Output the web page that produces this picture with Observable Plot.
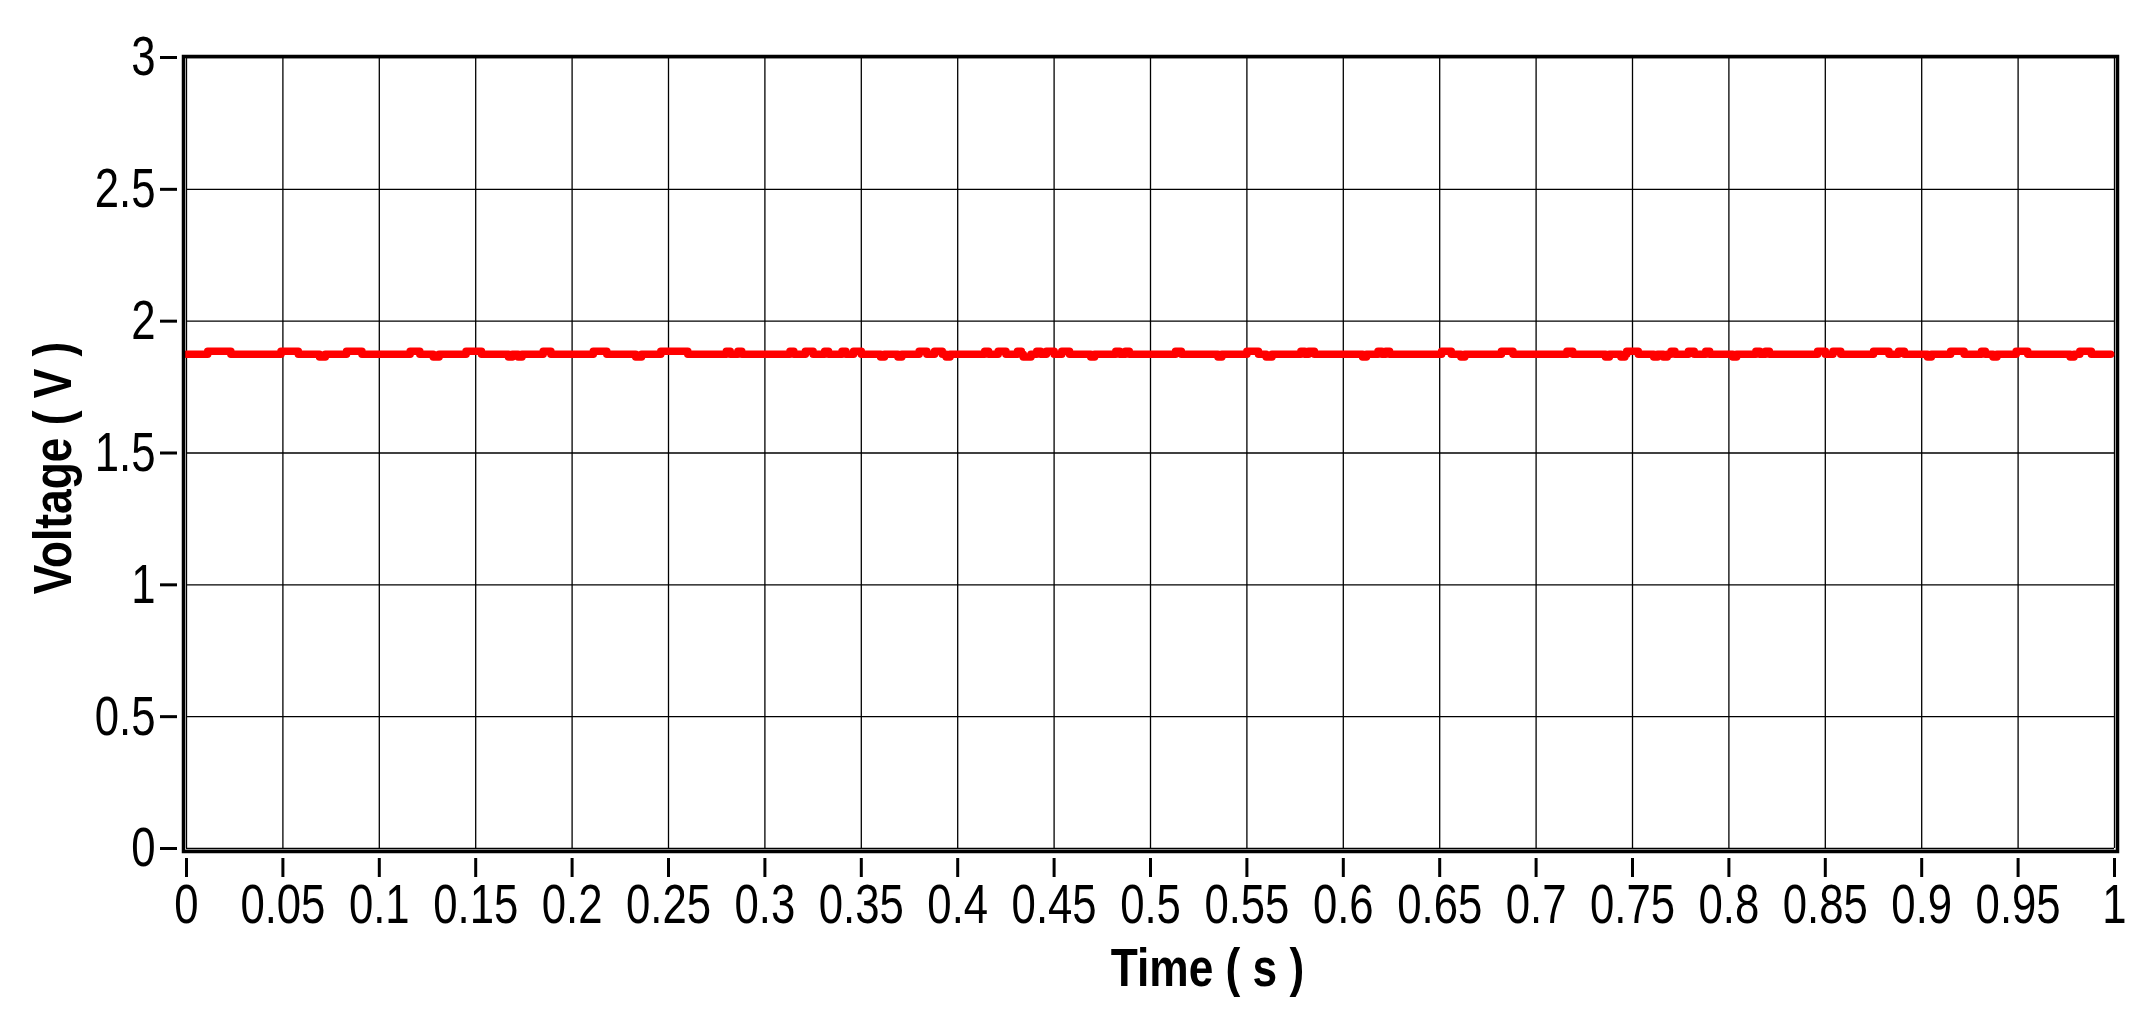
<!DOCTYPE html>
<html><head><meta charset="utf-8">
<script src="https://cdn.jsdelivr.net/npm/d3@7"></script>
<script src="https://cdn.jsdelivr.net/npm/@observablehq/plot@0.6"></script>
<style>body{margin:0;background:#fff} svg{display:block}</style>
</head><body><div id="chart"></div>
<script>
const xTicks = [0,0.05,0.1,0.15,0.2,0.25,0.3,0.35,0.4,0.45,0.5,0.55,0.6,0.65,0.7,0.75,0.8,0.85,0.9,0.95,1];
const xTickLabels = ["0","0.05","0.1","0.15","0.2","0.25","0.3","0.35","0.4","0.45","0.5","0.55","0.6","0.65","0.7","0.75","0.8","0.85","0.9","0.95","1"];
const yTicks = [0,0.5,1,1.5,2,2.5,3];
const yTickLabels = ["0","0.5","1","1.5","2","2.5","3"];
const xTitle = "Time ( s )";
const yTitle = "Voltage ( V )";

// Voltage trace: base level with short glitches (start time, end time, level)
const baseVolt = 1.875;
const startTime = 0;
const endTime = 0.998;
const glitchStart = [0.011,0.049,0.069,0.083,0.116,0.128,0.145,0.167,0.172,0.185,0.211,0.233,0.246,0.280,0.286,0.313,0.321,0.331,0.340,0.346,0.360,0.369,0.380,0.388,0.394,0.414,0.421,0.431,0.434,0.441,0.446,0.454,0.469,0.482,0.487,0.513,0.535,0.550,0.560,0.578,0.582,0.610,0.618,0.622,0.651,0.661,0.682,0.716,0.736,0.744,0.747,0.761,0.766,0.770,0.779,0.788,0.802,0.814,0.819,0.846,0.854,0.875,0.888,0.903,0.915,0.931,0.937,0.949,0.977,0.982];
const glitchEnd   = [0.023,0.058,0.072,0.091,0.121,0.131,0.153,0.169,0.174,0.189,0.218,0.236,0.260,0.282,0.288,0.315,0.325,0.333,0.342,0.350,0.362,0.371,0.384,0.392,0.396,0.416,0.425,0.433,0.438,0.443,0.450,0.458,0.471,0.484,0.489,0.516,0.537,0.556,0.563,0.580,0.585,0.612,0.620,0.624,0.656,0.663,0.688,0.719,0.738,0.746,0.753,0.763,0.768,0.772,0.782,0.790,0.804,0.816,0.821,0.850,0.858,0.883,0.891,0.905,0.922,0.933,0.939,0.955,0.979,0.988];
const glitchVolt  = [1.886,1.886,1.864,1.886,1.886,1.864,1.886,1.864,1.864,1.886,1.886,1.864,1.886,1.886,1.886,1.886,1.886,1.886,1.886,1.886,1.864,1.864,1.886,1.886,1.864,1.886,1.886,1.886,1.864,1.886,1.886,1.886,1.864,1.886,1.886,1.886,1.864,1.886,1.864,1.886,1.886,1.864,1.886,1.886,1.886,1.864,1.886,1.886,1.864,1.864,1.886,1.864,1.864,1.886,1.886,1.886,1.864,1.886,1.886,1.886,1.886,1.886,1.886,1.864,1.886,1.886,1.864,1.886,1.864,1.886];

const series = [{t: startTime, v: baseVolt}];
glitchStart.forEach((s, i) => {
  series.push({t: s, v: glitchVolt[i]});
  series.push({t: glitchEnd[i], v: baseVolt});
});
series.push({t: endTime, v: baseVolt});

const xLab = new Map(xTicks.map((d, i) => [d, xTickLabels[i]]));
const yLab = new Map(yTicks.map((d, i) => [d, yTickLabels[i]]));
const font = "'Liberation Sans', Arial, sans-serif";

const chart = Plot.plot({
  width: 2152, height: 1024,
  marginLeft: 183, marginRight: 35, marginTop: 56, marginBottom: 173,
  style: {fontFamily: font, fontSize: "56px", color: "black", background: "white"},
  x: {domain: [0, 1], insetLeft: 3, insetRight: 3},
  y: {domain: [0, 3], insetTop: 1, insetBottom: 3},
  marks: [
    Plot.ruleX(xTicks, {y1: 0, y2: 3, stroke: "black", strokeWidth: 1.3}),
    Plot.ruleY(yTicks, {x1: 0, x2: 1, stroke: "black", strokeWidth: 1.3}),
    Plot.line(series, {x: "t", y: "v", curve: "step-after", stroke: "#ff0000", strokeWidth: 7.5, strokeLinejoin: "round", strokeLinecap: "round"}),
    Plot.frame({stroke: "black", strokeWidth: 3.5}),
    Plot.axisX({ticks: xTicks, tickFormat: d => xLab.get(d), tickSize: 19, tickPadding: 6, dy: 7, strokeWidth: 3, label: null, fontSize: 56}),
    Plot.axisY({ticks: yTicks, tickFormat: d => yLab.get(d), tickSize: 17, tickPadding: 5, dx: -6, strokeWidth: 3, label: null, fontSize: 56}),
    Plot.text([xTitle], {frameAnchor: "bottom", textAnchor: "middle", lineAnchor: "bottom", dx: 57, dy: 134, fontWeight: "bold", fontSize: 54, fill: "black"}),
    Plot.text([yTitle], {frameAnchor: "left", textAnchor: "middle", lineAnchor: "bottom", rotate: -90, dx: -113, dy: 14, fontWeight: "bold", fontSize: 54, fill: "black"})
  ]
});
document.getElementById("chart").appendChild(chart);
// condense glyphs horizontally to imitate the narrow typeface of the reference
chart.querySelectorAll("text").forEach(t => {
  const g = t.parentNode;
  const bold = (t.getAttribute("font-weight") || (g && g.getAttribute && g.getAttribute("font-weight")) || "") === "bold";
  const w = t.getComputedTextLength();
  if (w > 0) {
    t.setAttribute("textLength", (w * (bold ? 0.82 : 0.78)).toFixed(2));
    t.setAttribute("lengthAdjust", "spacingAndGlyphs");
  }
});
</script>
</body></html>
